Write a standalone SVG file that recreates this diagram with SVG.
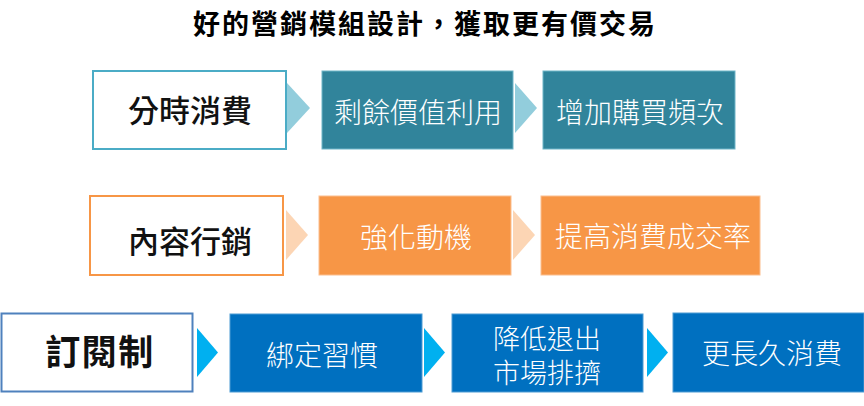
<svg xmlns="http://www.w3.org/2000/svg" width="864" height="406" viewBox="0 0 864 406">
<style>
text{font-family:"Noto Sans CJK TC","Noto Sans CJK SC",sans-serif;text-anchor:middle;dominant-baseline:central}
.title{font-size:27px;font-weight:bold;fill:#000;letter-spacing:2px}
.head{font-size:31px;font-weight:500;fill:#111}
.head3{font-size:35px;font-weight:bold;fill:#111;letter-spacing:1.5px}
.lbl{font-size:28px;font-weight:300;fill:#fff}
.lbl2{font-size:27px;font-weight:300;fill:#fff}
.o1{fill:#fff;stroke:#4BACC6;stroke-width:2}
.o2{fill:#fff;stroke:#F79646;stroke-width:2}
.o3{fill:#fff;stroke:#4F81BD;stroke-width:2}
.f1{fill:#31849B;stroke:#6FB5C8;stroke-width:1}
.f2{fill:#F79646;stroke:#FBBE8E;stroke-width:1}
.f3{fill:#0070C0;stroke:#4D9BD3;stroke-width:1}
.a1{fill:#92CDDC}
.a2{fill:#FCD5B4}
.a3{fill:#00B0F0}
</style>
<rect width="864" height="406" fill="#fff"/>
<g id="title"><text class="title" x="425" y="22">好的營銷模組設計，獲取更有價交易</text></g>

<g id="connectors">
<polygon class="a1" points="287,83 310,108 287,133"/>
<polygon class="a1" points="515,83 537,108 515,133"/>
<polygon class="a2" points="286,210 308,235 286,260"/>
<polygon class="a2" points="513,210 535,235 513,260"/>
<polygon class="a3" points="197,328 218,352.5 197,377"/>
<polygon class="a3" points="424,328 445,352.5 424,377"/>
<polygon class="a3" points="647,328 668,352.5 647,377"/>
</g>

<g id="n-fenshi"><rect class="o1" x="93" y="71" width="193" height="78"/><text class="head" x="190" y="108">分時消費</text></g>
<g id="n-shengyu"><rect class="f1" x="322" y="71" width="191" height="78"/><text class="lbl" x="418" y="111">剩餘價值利用</text></g>
<g id="n-zengjia"><rect class="f1" x="543" y="71" width="192" height="78"/><text class="lbl" x="640" y="111">增加購買頻次</text></g>

<g id="n-neirong"><rect class="o2" x="90" y="196" width="193" height="79"/><text class="head" x="190" y="239">內容行銷</text></g>
<g id="n-qianghua"><rect class="f2" x="319" y="196" width="192" height="79"/><text class="lbl" x="416" y="236">強化動機</text></g>
<g id="n-tigao"><rect class="f2" x="541" y="196" width="219" height="79"/><text class="lbl" x="653" y="235">提高消費成交率</text></g>

<g id="n-dingyue"><rect class="o3" x="1.5" y="313.5" width="191" height="78"/><text class="head3" x="100" y="349">訂閱制</text></g>
<g id="n-bangding"><rect class="f3" x="230" y="314" width="192" height="78"/><text class="lbl" x="322" y="354">綁定習慣</text></g>
<g id="n-jiangdi"><rect class="f3" x="452" y="314" width="191" height="78"/><text class="lbl2" x="547" y="337">降低退出</text><text class="lbl2" x="547" y="371">市場排擠</text></g>
<g id="n-gengchang"><rect class="f3" x="673" y="313" width="191" height="79"/><text class="lbl" x="772" y="352">更長久消費</text></g>
</svg>
